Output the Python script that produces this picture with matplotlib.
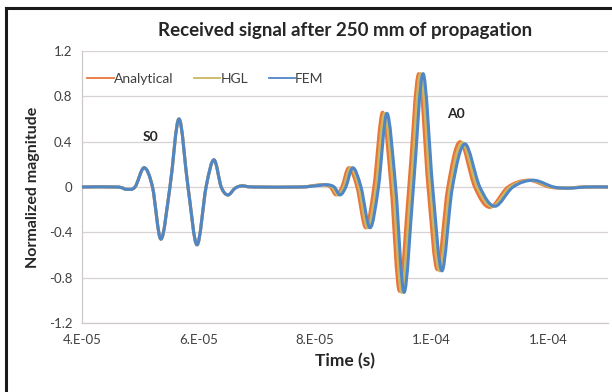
# Received signal after 250 mm of propagation: analytical, HGL and FEM traces
import numpy as np
import matplotlib
matplotlib.use("Agg")
import matplotlib.pyplot as plt
from matplotlib.path import Path
from matplotlib.patches import PathPatch
from matplotlib.lines import Line2D

plt.rcParams['font.family'] = ['Lato', 'DejaVu Sans']

# --- data (time in microseconds, normalized magnitude) ---
# S0 packet: the three models overlap
s0_t = [40.0, 46.0, 47.6, 49.1, 50.65, 52.1, 53.55, 55.1, 56.65, 58.2,
        59.75, 61.3, 62.65, 63.9, 65.05, 66.3, 67.5, 69.5]
s0_v = [0.0, 0.0, -0.02, 0.0, 0.17, 0.0, -0.46, 0.0, 0.60, 0.0,
        -0.51, 0.0, 0.24, 0.0, -0.07, -0.01, 0.01, 0.0]

# A0 packet, one per model
a0_t_ana = [77.5, 79.3, 81.3, 82.6, 83.6, 84.6, 85.8, 87.2, 88.7, 90.1,
            91.6, 93.05, 94.5, 96.1, 97.8, 99.4, 101.0, 102.8, 104.9, 107.4,
            110.0, 113.1, 116.6, 120.2, 123.0, 126.0, 130.3]
a0_v_ana = [0.0, 0.01, 0.02, 0.0, -0.07, 0.0, 0.17, 0.0, -0.36, 0.0,
            0.66, 0.0, -0.92, 0.0, 1.0, 0.0, -0.73, 0.0, 0.40, 0.0,
            -0.18, 0.0, 0.06, 0.0, -0.01, 0.0, 0.0]

a0_t_hgl = [77.5, 79.6, 81.7, 82.95, 83.95, 84.95, 86.15, 87.55, 89.05, 90.5,
            91.95, 93.45, 94.9, 96.5, 98.15, 99.8, 101.4, 103.2, 105.3, 107.85,
            110.45, 113.55, 117.0, 120.6, 123.4, 126.3, 130.3]
a0_v_hgl = [0.0, 0.01, 0.02, 0.0, -0.07, 0.0, 0.17, 0.0, -0.36, 0.0,
            0.65, 0.0, -0.93, 0.0, 1.0, 0.0, -0.74, 0.0, 0.39, 0.0,
            -0.17, 0.0, 0.06, 0.0, -0.01, 0.0, 0.0]

a0_t_fem = [77.5, 80.0, 82.05, 83.3, 84.3, 85.3, 86.5, 87.9, 89.45, 90.9,
            92.35, 93.85, 95.3, 96.9, 98.55, 100.2, 101.8, 103.6, 105.75, 108.3,
            110.9, 114.0, 117.45, 121.0, 123.8, 126.5, 130.3]
a0_v_fem = [0.0, 0.01, 0.02, 0.0, -0.07, 0.0, 0.17, 0.0, -0.36, 0.0,
            0.65, 0.0, -0.93, 0.0, 1.0, 0.0, -0.74, 0.0, 0.38, 0.0,
            -0.17, 0.0, 0.06, 0.0, -0.01, 0.0, 0.0]

names = ['Analytical', 'HGL', 'FEM']
colors = ['#E8763A', '#CDB662', '#4F86C6']
series_t = [s0_t + a0_t_ana, s0_t + a0_t_hgl, s0_t + a0_t_fem]
series_v = [s0_v + a0_v_ana, s0_v + a0_v_hgl, s0_v + a0_v_fem]

xticks = [4e-5, 6e-5, 8e-5, 1e-4, 1.2e-4]
xtick_labels = ['4.E-05', '6.E-05', '8.E-05', '1.E-04', '1.E-04']
yticks = [-1.2, -0.8, -0.4, 0, 0.4, 0.8, 1.2]
ytick_labels = ['-1.2', '-0.8', '-0.4', '0', '0.4', '0.8', '1.2']


def smooth_path(x, y):
    # spreadsheet-style smoothed line: Catmull-Rom segments as cubic Beziers
    pts = np.column_stack([x, y])
    verts = [pts[0]]
    codes = [Path.MOVETO]
    n = len(pts)
    for i in range(n - 1):
        p0 = pts[max(i - 1, 0)]
        p1 = pts[i]
        p2 = pts[i + 1]
        p3 = pts[min(i + 2, n - 1)]
        c1 = p1 + (p2 - p0) / 6.0
        c2 = p2 - (p3 - p1) / 6.0
        verts += [c1, c2, p2]
        codes += [Path.CURVE4] * 3
    return Path(verts, codes)


fig = plt.figure(figsize=(6.12, 3.92), dpi=100)
ax = fig.add_axes([82 / 612, 1 - 323 / 392, 526 / 612, 272 / 392])

for name, c, t, v in zip(names, colors, series_t, series_v):
    t = np.array(t) * 1e-6
    ax.add_patch(PathPatch(smooth_path(t, v), facecolor='none',
                           edgecolor=c, lw=2.2, capstyle='round',
                           joinstyle='round', zorder=3))

ax.set_xlim(4e-5, 1.303e-4)
ax.set_ylim(-1.2, 1.2)
ax.set_xticks(xticks)
ax.set_xticklabels(xtick_labels)
ax.set_yticks(yticks)
ax.set_yticklabels(ytick_labels)
ax.tick_params(length=0, labelsize=9.5, labelcolor='#404040')
ax.tick_params(axis='x', pad=8)
ax.tick_params(axis='y', pad=7)
ax.grid(True, axis='y', color='#D9D2D2', lw=0.9)
ax.set_axisbelow(True)
for s in ['top', 'right']:
    ax.spines[s].set_visible(False)
for s in ['left', 'bottom']:
    ax.spines[s].set_color('#CFC8C8')
    ax.spines[s].set_linewidth(0.9)

ax.set_title('Received signal after 250 mm of propagation', fontsize=13.5,
             fontweight='bold', color='#262626', pad=11)
ax.set_xlabel('Time (s)', fontsize=12.5, fontweight='bold', color='#262626',
              labelpad=5)
ax.set_ylabel('Normalized magnitude', fontsize=11.5, fontweight='bold',
              color='#262626', labelpad=6)

ax.text(5.18e-5, 0.44, 'S0', fontsize=10, fontweight='bold', color='#262626',
        ha='center', va='center')
ax.text(1.042e-4, 0.64, 'A0', fontsize=10, fontweight='bold', color='#262626',
        ha='center', va='center')

handles = [Line2D([], [], color=c, lw=1.3) for c in colors]
ax.legend(handles, names, loc='center left', bbox_to_anchor=(0.01, 0.897),
          ncol=3, frameon=False, fontsize=10, handlelength=1.9,
          handletextpad=0.0, columnspacing=1.5, labelcolor='#404040',
          borderaxespad=0, borderpad=0)

# outer chart frame (left and top edges)
fig.add_artist(Line2D([6 / 612, 6 / 612], [0, 1 - 8 / 392], color='#1A1A1A',
                      lw=2.2, transform=fig.transFigure))
fig.add_artist(Line2D([6 / 612, 1], [1 - 8 / 392, 1 - 8 / 392],
                      color='#1A1A1A', lw=2.2, transform=fig.transFigure))

fig.savefig('out.png', dpi=100)
